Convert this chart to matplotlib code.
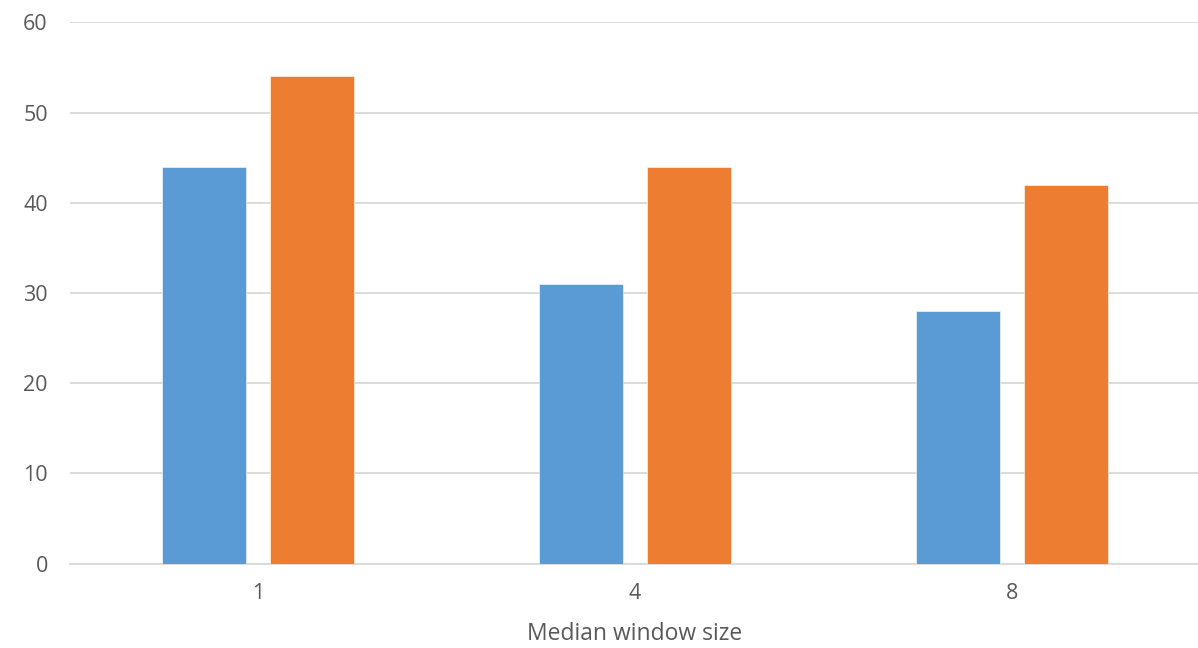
import matplotlib
matplotlib.use("Agg")
import matplotlib.pyplot as plt
import numpy as np

# Data
categories = ["1", "4", "8"]
series_a = [44, 31, 28]
series_b = [54, 44, 42]
y_ticks = [0, 10, 20, 30, 40, 50, 60]
x_label = "Median window size"

blue = "#5B9BD5"
orange = "#ED7D31"
text_color = "#595959"
grid_color = "#D9D9D9"

plt.rcParams["font.family"] = ["Open Sans", "DejaVu Sans"]

W, H = 1198, 648
fig = plt.figure(figsize=(W / 100, H / 100), dpi=100)
left, right = 70, 1200
top, bottom = 22.3, 563.7
ax = fig.add_axes([left / W, (H - bottom) / H, (right - left) / W, (bottom - top) / H])

x = np.arange(len(categories))
width = 0.223
offset = 0.143
ax.bar(x - offset, series_a, width, color=blue, edgecolor="#FFFFFF", linewidth=0.4, zorder=3)
ax.bar(x + offset, series_b, width, color=orange, edgecolor="#FFFFFF", linewidth=0.4, zorder=3)

ax.set_xlim(-0.5, len(categories) - 0.5)
ax.set_ylim(0, 60)
ax.set_yticks(y_ticks)
ax.set_xticks(x)
ax.set_xticklabels(categories)

ax.yaxis.grid(True, color=grid_color, linewidth=1.3, zorder=0)
ax.set_axisbelow(True)
for s in ["top", "right", "left"]:
    ax.spines[s].set_visible(False)
ax.spines["bottom"].set_color(grid_color)
ax.spines["bottom"].set_linewidth(1.3)

ax.tick_params(axis="both", length=0, labelsize=15.5, colors=text_color)
ax.tick_params(axis="y", pad=16)
ax.tick_params(axis="x", pad=14)
ax.set_xlabel(x_label, fontsize=16.5, color=text_color, labelpad=13)

fig.savefig("out.png", dpi=100)
